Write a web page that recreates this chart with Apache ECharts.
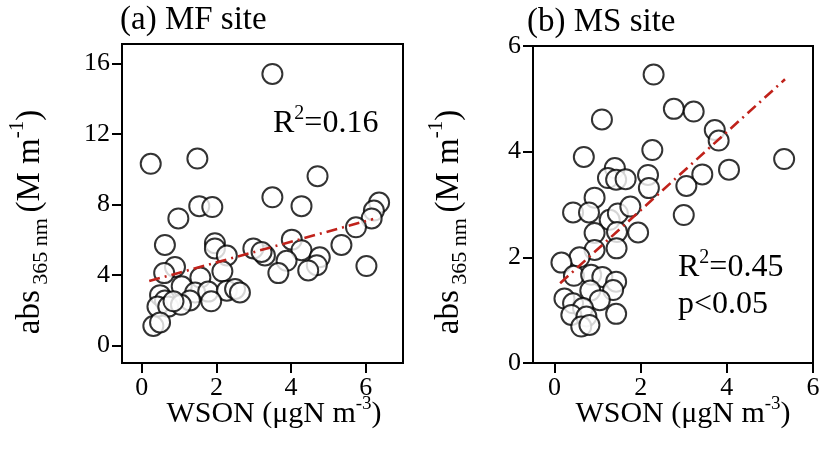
<!DOCTYPE html>
<html><head><meta charset="utf-8">
<script src="https://cdn.jsdelivr.net/npm/echarts@6/dist/echarts.min.js"></script>
<style>html,body{margin:0;padding:0;background:#fff}#c{width:825px;height:459px}</style>
</head><body><div id="c"></div>
<script>
// MF site (panel a)
const mfX = [0.24,1.49,3.50,4.71,3.50,4.28,1.54,1.89,0.98,6.36,6.22,6.16,5.74,5.35,6.02,4.02,4.28,3.88,4.77,4.69,4.46,3.66,3.30,2.99,3.21,1.96,1.96,2.28,0.62,0.89,0.60,2.16,1.57,1.07,1.43,1.78,2.28,2.50,2.63,0.49,0.62,0.42,0.71,1.29,1.86,0.31,0.49,1.05,0.85];
const mfY = [10.3,10.6,15.4,9.6,8.4,7.9,7.9,7.85,7.2,8.1,7.65,7.2,6.7,5.7,4.5,6.0,5.4,4.8,5.0,4.55,4.25,4.1,5.1,5.5,5.3,5.8,5.5,5.1,5.7,4.45,4.1,4.2,3.85,3.35,3.0,3.05,3.1,3.2,3.0,2.85,2.55,2.2,2.2,2.55,2.5,1.1,1.3,2.3,2.5];
const mfFitX = [0.2, 6.2];
const mfFitY = [3.65, 7.17];
// MS site (panel b)
const msX = [2.30,2.77,3.23,1.10,3.72,3.81,0.68,2.27,5.33,4.05,3.43,3.06,1.40,1.24,1.43,1.65,2.17,2.19,0.93,0.43,0.80,1.28,1.47,1.76,3.00,0.93,1.45,1.94,0.93,1.44,0.58,0.16,0.45,0.85,1.11,1.43,1.36,0.83,0.23,0.43,1.05,0.66,0.39,1.43,0.74,0.62,0.81];
const msY = [5.46,4.81,4.76,4.61,4.41,4.21,3.90,4.03,3.86,3.66,3.57,3.35,3.69,3.50,3.47,3.48,3.56,3.31,3.13,2.85,2.85,2.71,2.83,2.96,2.80,2.46,2.48,2.47,2.14,2.17,2.00,1.90,1.65,1.67,1.63,1.54,1.38,1.37,1.22,1.13,1.19,1.04,0.91,0.93,0.88,0.69,0.72];
const msFitX = [0.13, 5.35];
const msFitY = [1.51, 5.37];
// ticks
const mfXTicks = [0,2,4,6];
const mfYTicks = [0,4,8,12,16];
const msXTicks = [0,2,4,6];
const msYTicks = [0,2,4,6];
// texts
const titleA = '(a) MF site';
const titleB = '(b) MS site';
const statA = '{a|R}{s|2}{a|=0.16}';
const statB = '{a|R}{s|2}{a|=0.45}';
const statB2 = 'p<0.05';
const xTitle = '{a|WSON (μgN m}{s|-3}{a|)}';
const yTitle = '{a|abs}{b| 365 nm }{a|(M m}{s|-1}{a|)}';

const FONT = "'Liberation Serif','Times New Roman',serif";
const zip = (a,b) => a.map((v,i)=>[v,b[i]]);
const chart = echarts.init(document.getElementById('c'));

const yRich = {
  a:{fontFamily:FONT,fontSize:33,fill:'#000',lineHeight:40,verticalAlign:'bottom'},
  b:{fontFamily:FONT,fontSize:22,fill:'#000',lineHeight:40,verticalAlign:'bottom',padding:[0,0,-5,0]},
  s:{fontFamily:FONT,fontSize:21,fill:'#000',lineHeight:40,verticalAlign:'top'}
};
const xRich = {
  a:{fontFamily:FONT,fontSize:30,fill:'#000',lineHeight:34,verticalAlign:'bottom'},
  s:{fontFamily:FONT,fontSize:19,fill:'#000',lineHeight:34,verticalAlign:'top'}
};
const statRich = {
  a:{fontFamily:FONT,fontSize:32,fill:'#000',lineHeight:36,verticalAlign:'bottom'},
  s:{fontFamily:FONT,fontSize:20,fill:'#000',lineHeight:36,verticalAlign:'top'}
};
function axisCfg(gi,min,max,ticks){
  return {type:'value',gridIndex:gi,min:min,max:max,
    axisLine:{show:false,onZero:false},splitLine:{show:false},
    axisTick:{show:true,inside:false,length:10,lineStyle:{color:'#000',width:2},customValues:ticks},
    axisLabel:{show:true,margin:12,fontFamily:FONT,fontSize:26,color:'#000',customValues:ticks}};
}
const scatterStyle = {color:'#fff',borderColor:'#000',borderWidth:2};
const fitStyle = {color:'#c0221b',width:2.6,type:[11,5,2,5]};

chart.setOption({
  animation:false,
  backgroundColor:'#fff',
  grid:[
    {left:122,right:422,top:44,bottom:96,show:true,borderColor:'#000',borderWidth:2,backgroundColor:'transparent'},
    {left:533,right:12,top:46,bottom:96,show:true,borderColor:'#000',borderWidth:2,backgroundColor:'transparent'}
  ],
  xAxis:[axisCfg(0,-0.53,7,mfXTicks), axisCfg(1,-0.5,6,msXTicks)],
  yAxis:[axisCfg(0,-1,17.1,mfYTicks), axisCfg(1,0,6,msYTicks)],
  series:[
    {type:'scatter',xAxisIndex:0,yAxisIndex:0,data:zip(mfX,mfY),symbol:'circle',symbolSize:20,itemStyle:scatterStyle,z:2},
    {type:'line',xAxisIndex:0,yAxisIndex:0,data:zip(mfFitX,mfFitY),symbol:'none',lineStyle:fitStyle,z:3},
    {type:'scatter',xAxisIndex:1,yAxisIndex:1,data:zip(msX,msY),symbol:'circle',symbolSize:20,itemStyle:scatterStyle,z:2},
    {type:'line',xAxisIndex:1,yAxisIndex:1,data:zip(msFitX,msFitY),symbol:'none',lineStyle:fitStyle,z:3}
  ],
  graphic:[
    {type:'text',left:120,top:4,style:{text:titleA,font:'33px '+FONT,fill:'#000'}},
    {type:'text',left:527,top:6,style:{text:titleB,font:'33px '+FONT,fill:'#000'}},
    {type:'text',x:274,y:412,style:{text:xTitle,rich:xRich,align:'center',verticalAlign:'middle'}},
    {type:'text',x:683,y:412,style:{text:xTitle,rich:xRich,align:'center',verticalAlign:'middle'}},
    {type:'text',x:27,y:222,rotation:Math.PI/2,style:{text:yTitle,rich:yRich,align:'center',verticalAlign:'middle'}},
    {type:'text',x:446,y:222,rotation:Math.PI/2,style:{text:yTitle,rich:yRich,align:'center',verticalAlign:'middle'}},
    {type:'text',left:273,top:104,style:{text:statA,rich:statRich}},
    {type:'text',left:678,top:248,style:{text:statB,rich:statRich}},
    {type:'text',left:678,top:289,style:{text:statB2,font:'32px '+FONT,fill:'#000'}}
  ]
});
</script></body></html>
